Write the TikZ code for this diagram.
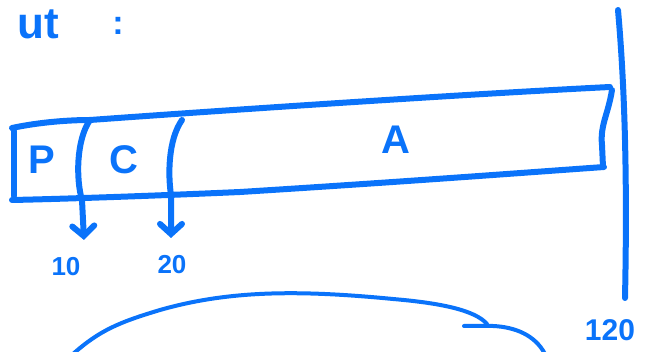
\documentclass[tikz,border=0pt]{standalone}
\usepackage{fontspec}
\setsansfont{Liberation Sans}
\usepackage{xcolor}
\definecolor{penblue}{RGB}{10, 115, 250}
\usetikzlibrary{arrows.meta, positioning}

\tikzset{
    pen/.style={penblue, line width=6pt, line cap=round, line join=round},
    thinpen/.style={penblue, line width=4pt, line cap=round, line join=round},
    hand/.style={penblue, font=\sffamily\bfseries\fontsize{#1}{#1}\selectfont, inner sep=0pt},
}

\begin{document}
\begin{tikzpicture}[x=1pt, y=-1pt, >={Straight Barb[length=10pt, width=22pt, line cap=round]}]
    \useasboundingbox (0,0) rectangle (646,352);

    % heading
    \node[hand=44] (head) at (38,24) {ut};
    \node[hand=34] (colon) at (118,26) {:};

    % bar outline
    \draw[pen] (12,128) .. controls (40,122) and (70,120) .. (90,120)
        .. controls (200,112) and (450,95) .. (610,87);
    \draw[pen] (12,200) .. controls (60,199) and (150,196) .. (240,192)
        .. controls (400,182) and (520,173) .. (604,167);
    \draw[pen] (14,131) -- (14,196);

    % right end and wall
    \draw[pen] (612,90) .. controls (608,115) and (600,125) .. (602,145) -- (603,167);
    \draw[pen] (618,10) .. controls (626,100) and (627,200) .. (625,298);

    % dividers with arrows
    \draw[pen, ->] (90,120) .. controls (76,140) and (76,180) .. (82,200) -- (84,240);
    \draw[pen, ->] (182,120) .. controls (168,140) and (168,175) .. (171,195) -- (171,238);

    % labels
    \node[hand=40] (lblP) at (42,160) {P};
    \node[hand=40] (lblC) at (124,160) {C};
    \node[hand=40] (lblA) at (396,140) {A};
    \node[hand=26] (ten) at (66,267) {10};
    \node[hand=26] (twenty) at (172,265) {20};
    \node[hand=30] (end) at (610,330) {120};

    % lower curve
    \draw[thinpen] (73,354) .. controls (100,330) and (120,322) .. (160,310)
        .. controls (230,290) and (300,290) .. (393,299)
        .. controls (440,303) and (475,310) .. (487,324);
    \draw[thinpen] (464,326) -- (493,326)
        .. controls (515,327) and (535,335) .. (545,354);
\end{tikzpicture}
\end{document}
